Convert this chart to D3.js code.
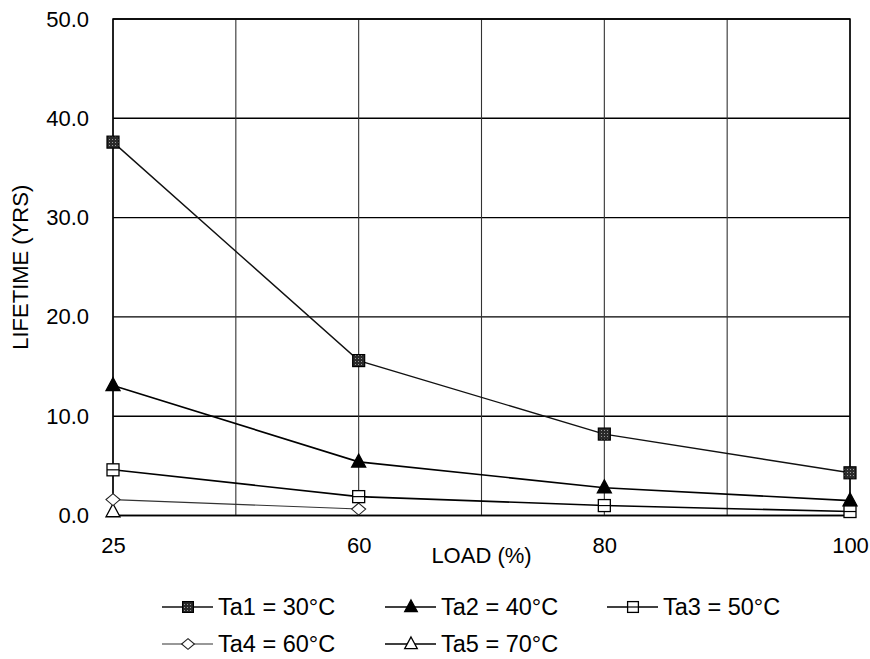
<!DOCTYPE html>
<html>
<head>
<meta charset="utf-8">
<script src="https://cdn.jsdelivr.net/npm/d3@7"></script>
<style>
  html, body { margin: 0; padding: 0; background: #fff; }
  svg { display: block; font-family: Arial, "Liberation Sans", sans-serif; }
</style>
</head>
<body>
<svg id="chart" width="870" height="659"></svg>
<script>
// ---- data ----
const categories = ["25", "60", "80", "100"];
const yTicks = [0, 10, 20, 30, 40, 50];
const ta1 = [37.6, 15.6, 8.2, 4.3];
const ta2 = [13.1, 5.4, 2.8, 1.5];
const ta3 = [4.6, 1.9, 1.0, 0.4];
const ta4 = [1.6, 0.65, null, null];
const ta5 = [0.4, null, null, null];
const seriesNames = ["Ta1 = 30°C", "Ta2 = 40°C", "Ta3 = 50°C", "Ta4 = 60°C", "Ta5 = 70°C"];
const xTitle = "LOAD (%)";
const yTitle = "LIFETIME (YRS)";

const series = [
  { name: seriesNames[0], values: ta1, marker: "hatchSquare", lw: 1.4, color: "#111" },
  { name: seriesNames[1], values: ta2, marker: "filledTriangle", lw: 1.6, color: "#000" },
  { name: seriesNames[2], values: ta3, marker: "openSquare", lw: 1.6, color: "#000" },
  { name: seriesNames[3], values: ta4, marker: "openDiamond", lw: 1.1, color: "#333" },
  { name: seriesNames[4], values: ta5, marker: "openTriangle", lw: 1.4, color: "#000" }
];

const svg = d3.select("#chart");
const margin = { left: 113, right: 20, top: 19, bottom: 143.5 };
const W = 870, H = 659;
const x = d3.scalePoint().domain(categories).range([margin.left, W - margin.right]);
const y = d3.scaleLinear().domain([0, 50]).range([H - margin.bottom, margin.top]);

// hatch pattern for Ta1 marker
const defs = svg.append("defs");
const pat = defs.append("pattern").attr("id", "hatch").attr("patternUnits", "userSpaceOnUse")
  .attr("width", 3).attr("height", 3);
pat.append("rect").attr("width", 3).attr("height", 3).attr("fill", "#2a2a2a");
pat.append("rect").attr("x", 1).attr("y", 1).attr("width", 1).attr("height", 1).attr("fill", "#9a9a9a");

// gridlines
const g = svg.append("g");
g.selectAll("line.hgrid").data(yTicks).join("line")
  .attr("x1", x.range()[0]).attr("x2", x.range()[1])
  .attr("y1", d => y(d)).attr("y2", d => y(d))
  .attr("stroke", "#000").attr("stroke-width", 1.4);

// vertical gridlines: at categories and midpoints between them
const vx = [];
categories.forEach((c, i) => {
  vx.push(x(c));
  if (i < categories.length - 1) vx.push((x(c) + x(categories[i + 1])) / 2);
});
g.selectAll("line.vgrid").data(vx).join("line")
  .attr("x1", d => d).attr("x2", d => d)
  .attr("y1", y(0)).attr("y2", y(50))
  .attr("stroke", "#333").attr("stroke-width", 1.1);

// plot border
svg.append("rect").attr("x", x.range()[0]).attr("y", y(50))
  .attr("width", x.range()[1] - x.range()[0]).attr("height", y(0) - y(50))
  .attr("fill", "none").attr("stroke", "#000").attr("stroke-width", 1.5);

// axes (labels only)
const yAxis = d3.axisLeft(y).tickValues(yTicks).tickFormat(d3.format(".1f")).tickSize(0).tickPadding(24);
const ya = svg.append("g").attr("transform", `translate(${margin.left},0)`).call(yAxis);
ya.select(".domain").remove();
ya.selectAll("text").attr("font-size", 22).attr("fill", "#000").attr("font-family", "Arial, 'Liberation Sans', sans-serif");

const xAxis = d3.axisBottom(x).tickSize(0).tickPadding(22);
const xa = svg.append("g").attr("transform", `translate(0,${y(0)})`).call(xAxis);
xa.select(".domain").remove();
xa.selectAll("text").attr("font-size", 22).attr("fill", "#000").attr("font-family", "Arial, 'Liberation Sans', sans-serif");

// axis titles
svg.append("text").attr("x", (x.range()[0] + x.range()[1]) / 2).attr("y", 563)
  .attr("text-anchor", "middle").attr("font-size", 22).text(xTitle);
svg.append("text").attr("transform", `translate(28,${(y(0) + y(50)) / 2}) rotate(-90)`)
  .attr("text-anchor", "middle").attr("font-size", 22).text(yTitle);

// markers
function drawMarker(sel, type, cx, cy, scale) {
  const s = scale || 1;
  if (type === "hatchSquare") {
    const a = 12 * s;
    sel.append("rect").attr("x", cx - a / 2).attr("y", cy - a / 2).attr("width", a).attr("height", a)
      .attr("fill", "url(#hatch)").attr("stroke", "#000").attr("stroke-width", 1.2);
  } else if (type === "openSquare") {
    const a = 12 * s;
    sel.append("rect").attr("x", cx - a / 2).attr("y", cy - a / 2).attr("width", a).attr("height", a)
      .attr("fill", "#fff").attr("stroke", "#000").attr("stroke-width", 1.3);
    sel.append("line").attr("x1", cx - a / 2).attr("x2", cx + a / 2).attr("y1", cy).attr("y2", cy)
      .attr("stroke", "#000").attr("stroke-width", 1.2);
  } else if (type === "filledTriangle" || type === "openTriangle") {
    const a = 14 * s, h = 13 * s;
    const pts = [[cx, cy - h * 0.6], [cx + a / 2, cy + h * 0.4], [cx - a / 2, cy + h * 0.4]];
    sel.append("path").attr("d", d3.line()(pts) + "Z")
      .attr("fill", type === "filledTriangle" ? "#000" : "#fff")
      .attr("stroke", "#000").attr("stroke-width", 1.3);
  } else if (type === "openDiamond") {
    const r = 6 * s;
    const pts = [[cx, cy - r], [cx + r + 1, cy], [cx, cy + r], [cx - r - 1, cy]];
    sel.append("path").attr("d", d3.line()(pts) + "Z")
      .attr("fill", "#fff").attr("stroke", "#222").attr("stroke-width", 1.1);
  }
}

const line = d3.line().defined(d => d.v != null).x(d => x(d.c)).y(d => y(d.v));
series.forEach(s => {
  const pts = categories.map((c, i) => ({ c, v: s.values[i] }));
  svg.append("path").datum(pts).attr("d", line).attr("fill", "none")
    .attr("stroke", s.color).attr("stroke-width", s.lw);
});
// draw markers in reverse so Ta1 is on top
series.slice().reverse().forEach(s => {
  const mg = svg.append("g");
  categories.forEach((c, i) => {
    if (s.values[i] != null) drawMarker(mg, s.marker, x(c), y(s.values[i]));
  });
});

// legend
const legendPos = [
  [162, 607], [385, 607], [607, 607],
  [162, 644], [385, 644]
];
series.forEach((s, i) => {
  const [lx, ly] = legendPos[i];
  const lg = svg.append("g");
  lg.append("line").attr("x1", lx).attr("x2", lx + 51).attr("y1", ly).attr("y2", ly)
    .attr("stroke", s.color).attr("stroke-width", s.lw);
  drawMarker(lg, s.marker, lx + 26, ly, 0.9);
  lg.append("text").attr("x", lx + 56).attr("y", ly).attr("dy", "0.36em")
    .attr("font-size", 23.5).attr("fill", "#000").text(s.name);
});
</script>
</body>
</html>
